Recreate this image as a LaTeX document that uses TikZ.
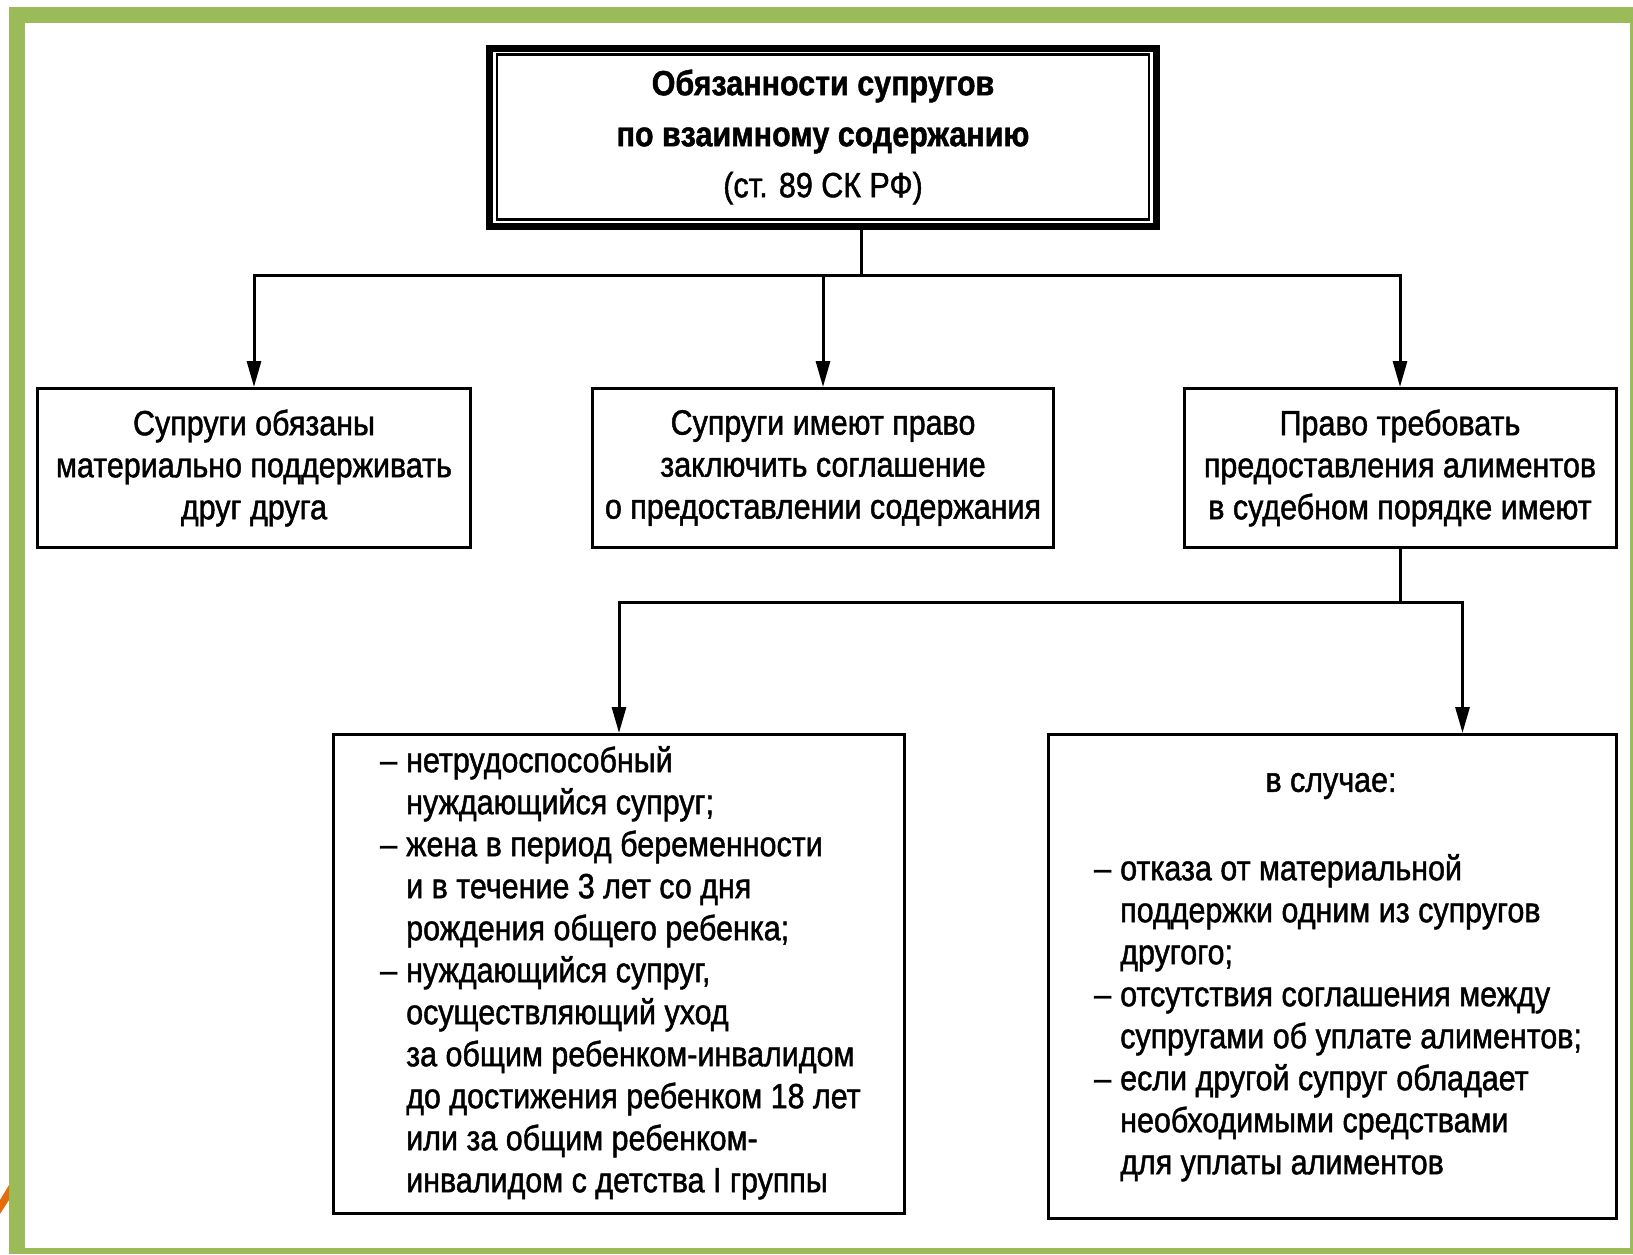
\documentclass[tikz,border=0pt]{standalone}
\usepackage{fontspec}
\setmainfont{Liberation Sans}[FakeStretch=0.87, FakeBold=1.3]
\usetikzlibrary{arrows.meta,positioning}
\definecolor{slidegreen}{RGB}{155,187,89}
\definecolor{clipart}{RGB}{228,108,10}
\newcommand{\itm}{\makebox[26pt][l]{--}}
\newcommand{\cnt}{\hspace*{26pt}}

\begin{document}
\begin{tikzpicture}[x=1pt, y=-1pt, >={Stealth[length=26pt,width=14pt,inset=0pt]},
		font=\fontsize{35}{42}\selectfont,
		box/.style={draw, line width=3pt, inner sep=0pt, align=center},
		list/.style={inner sep=0pt, align=left, anchor=north west},
		link/.style={line width=3pt}]
		\useasboundingbox (0,0) rectangle (1633,1254);
		% slide frame
		\fill[slidegreen] (9,7) rectangle (1633,1254);
		\fill[white] (25,23) rectangle (1630,1248);
		\fill[clipart] (0,1200) -- (9,1185) -- (9,1200) -- (0,1214) -- cycle;
		% title with double border
		\node[box, line width=7pt, minimum width=667, minimum height=178,
			font=\fontsize{35}{51}\selectfont\bfseries] (duty) at (823,137)
			{Обязанности супругов\\по взаимному содержанию\\{\mdseries (ст. 89 СК РФ)}};
		\draw[line width=2.5pt] ([xshift=11pt,yshift=-10pt]duty.north west) rectangle ([xshift=-11pt,yshift=10pt]duty.south east);
		% first row
		\node[box, minimum width=433, minimum height=159] (support) at (254,468)
			{Супруги обязаны\\материально поддерживать\\друг друга};
		\node[box, minimum width=461, minimum height=159] (agree) at (823,468)
			{Супруги имеют право\\заключить соглашение\\о предоставлении содержания};
		\node[box, minimum width=432, minimum height=159] (claim) at (1400,468)
			{Право требовать\\предоставления алиментов\\в судебном порядке имеют};
		\coordinate (split) at ([xshift=38pt,yshift=-46pt]duty.south);
		\draw[link] (split |- duty.south) -- (split);
		\draw[link,->] (split) -| (support.north);
		\draw[link,->] (split) -| (claim.north);
		\draw[link,->] (split -| agree.north) -- (agree.north);
		% second row
		\node[box, minimum width=571, minimum height=479, anchor=north west] (need) at (332,733) {};
		\node[box, minimum width=568, minimum height=484, anchor=north west] (cases) at (1047,733) {};
		\node[list] (needtext) at (380,746)
			{\itm нетрудоспособный\\
			\cnt нуждающийся супруг;\\
			\itm жена в период беременности\\
			\cnt и в течение 3 лет со дня\\
			\cnt рождения общего ребенка;\\
			\itm нуждающийся супруг,\\
			\cnt осуществляющий уход\\
			\cnt за общим ребенком-инвалидом\\
			\cnt до достижения ребенком 18 лет\\
			\cnt или за общим ребенком-\\
			\cnt инвалидом с детства I группы};
		\node (casehead) at (1331,786) {в случае:};
		\node[list] (casetext) at (1094,854)
			{\itm отказа от материальной\\
			\cnt поддержки одним из супругов\\
			\cnt другого;\\
			\itm отсутствия соглашения между\\
			\cnt супругами об уплате алиментов;\\
			\itm если другой супруг обладает\\
			\cnt необходимыми средствами\\
			\cnt для уплаты алиментов};
		\coordinate (fork) at ([yshift=-53pt]claim.south);
		\coordinate (casein) at ([xshift=130pt]cases.north);
		\draw[link] (claim.south) -- (fork);
		\draw[link,->] (fork) -| (need.north);
		\draw[link,->] (fork) -| (casein);
	\end{tikzpicture}
\end{document}
